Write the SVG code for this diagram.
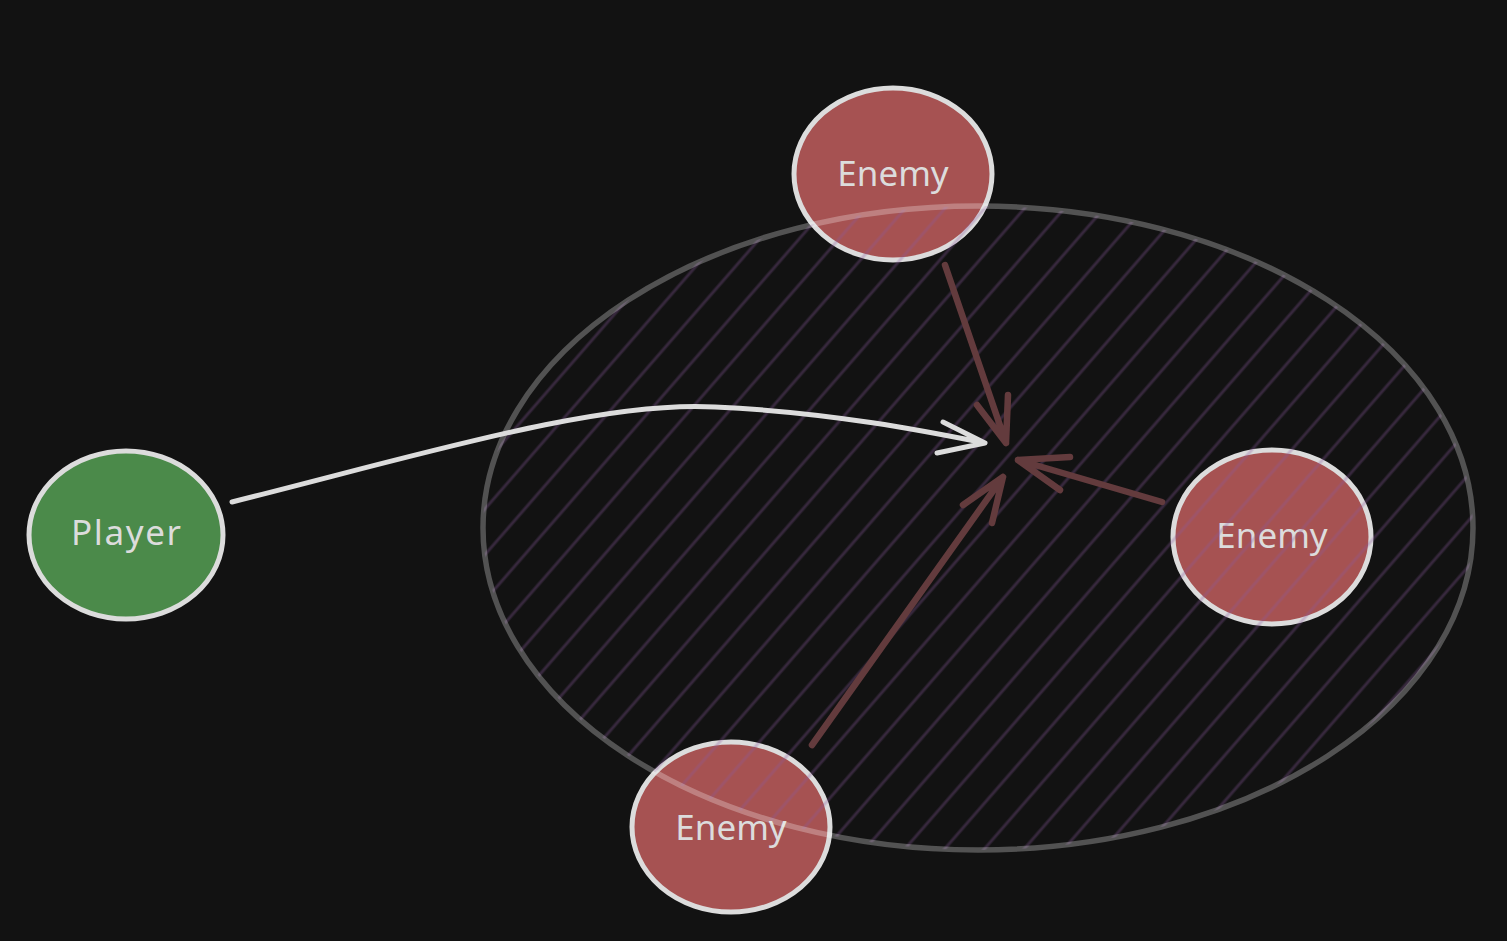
<svg xmlns="http://www.w3.org/2000/svg" width="1507" height="941" viewBox="0 0 1507 941">
<defs>
<style>
.node{stroke:#dcdcdc;stroke-width:5}
.enemy{fill:#a65252}
.player{fill:#4b8a4a}
.lbl{font-family:"Noto Sans","Liberation Sans",sans-serif;font-size:35px;fill:#dcdcdc;text-anchor:middle}
.atk{fill:none;stroke:#633b3d;stroke-width:6.5;stroke-linecap:round;stroke-linejoin:round}
.mv{fill:none;stroke:#dcdcdc;stroke-width:5;stroke-linecap:round;stroke-linejoin:round}
</style>
<pattern id="hatch" patternUnits="userSpaceOnUse" width="30" height="20" patternTransform="translate(643 350) rotate(41)">
<line x1="15" y1="-5" x2="15" y2="25" stroke="#8c5aa0" stroke-opacity="0.3" stroke-width="3"/>
</pattern>
</defs>
<rect width="1507" height="941" fill="#121212"/>
<g id="player">
<ellipse class="node player" cx="126" cy="535" rx="97" ry="84"/>
<text class="lbl" x="126" y="545" textLength="110">Player</text>
</g>
<g id="enemy-top">
<ellipse class="node enemy" cx="893" cy="174" rx="99" ry="86"/>
<text class="lbl" x="893" y="186">Enemy</text>
</g>
<g id="enemy-right">
<ellipse class="node enemy" cx="1272" cy="537" rx="99" ry="87"/>
<text class="lbl" x="1272" y="548">Enemy</text>
</g>
<g id="enemy-bottom">
<ellipse class="node enemy" cx="731" cy="827" rx="99" ry="85"/>
<text class="lbl" x="731" y="840">Enemy</text>
</g>
<g id="zone">
<ellipse cx="978" cy="528" rx="495" ry="322" fill="url(#hatch)"/>
<ellipse cx="978" cy="528" rx="495" ry="322" fill="none" stroke="#ffffff" stroke-opacity="0.27" stroke-width="5.5"/>
</g>
<g id="connectors">
<path class="atk" d="M945 265 L1006 443 M977 405 L1006 443 L1008 395"/>
<path class="atk" d="M1162 502 L1018 460 M1070 457 L1018 460 L1060 490"/>
<path class="atk" d="M812 745 L1003 477 M963 505 L1003 477 L992 523"/>
<path class="mv" d="M232 502 C420 455 600 400 715 407 C830 412 930 432 985 443 M943 422 L985 443 L937 453"/>
</g>
</svg>
